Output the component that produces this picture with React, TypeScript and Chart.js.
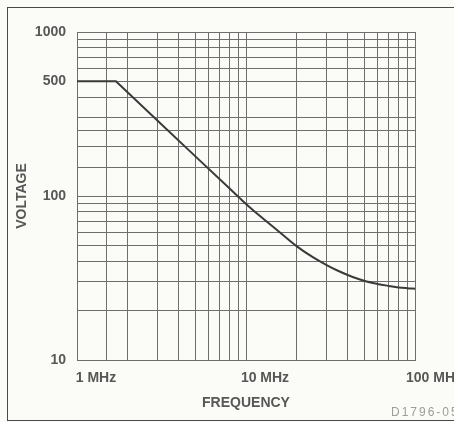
import { useEffect, useRef } from 'react';
import { Chart, registerables } from 'chart.js';

Chart.register(...registerables);

// Data
const frequenciesMHz = [1, 1.7, 3, 5, 8, 9.2, 10, 12, 15, 20, 25, 30, 35, 40, 50, 60, 70, 80, 90, 100];
const voltages = [500, 500, 288, 175, 111, 96.8, 89.5, 76, 63, 49.3, 42.2, 37.9, 35, 33, 30.4, 29.1, 28.3, 27.7, 27.4, 27.2];
// points up to this index form the straight part of the curve; the rest is the smooth roll-off
const straightEndIndex = 5;

const xGridValues = [1, 1.5, 2, 3, 4, 5, 6, 7, 8, 9, 10, 20, 30, 40, 50, 60, 70, 80, 90, 100];
const yGridValues = [10, 20, 30, 40, 50, 60, 70, 80, 90, 100, 150, 200, 250, 300, 400, 500, 600, 700, 800, 900, 1000];
const xLabelValues = [1, 10, 100];
const xLabelTexts = ['1 MHz', '10 MHz', '100 MHz'];
const yLabelValues = [10, 100, 500, 1000];
const xTitle = 'FREQUENCY';
const yTitle = 'VOLTAGE';
const figureCode = 'D1796-05';

const TEXT = '#575757';
const GRID = '#6e6e6e';
const CURVE = '#3a3a3a';
const FONT = '"Liberation Sans", Arial, Helvetica, sans-serif';

export default function App() {
  const ref = useRef<HTMLCanvasElement | null>(null);

  useEffect(() => {
    if (!ref.current) return;
    const points = frequenciesMHz.map((f, i) => ({ x: f, y: voltages[i] }));
    const codePlugin = {
      id: 'figureCode',
      afterDraw(chart: any) {
        const ctx = chart.ctx;
        ctx.save();
        ctx.font = `12px ${FONT}`;
        try { (ctx as any).letterSpacing = '2px'; } catch (e) {}
        ctx.fillStyle = '#9c9c9c';
        ctx.textBaseline = 'middle';
        ctx.textAlign = 'left';
        ctx.fillText(figureCode, 391, 413);
        ctx.restore();
      },
    };
    const chart = new Chart(ref.current, {
      type: 'line',
      data: {
        datasets: [
          {
            data: points.slice(0, straightEndIndex + 1),
            borderColor: CURVE,
            borderWidth: 2,
            pointRadius: 0,
            tension: 0,
            fill: false,
          },
          {
            data: points.slice(straightEndIndex),
            borderColor: CURVE,
            borderWidth: 2,
            pointRadius: 0,
            cubicInterpolationMode: 'monotone',
            fill: false,
          },
        ],
      },
      options: {
        responsive: false,
        animation: false,
        layout: { padding: { left: 0, right: 65, top: 32, bottom: 0 } },
        plugins: {
          legend: { display: false },
          tooltip: { enabled: false },
        },
        scales: {
          x: {
            type: 'logarithmic',
            min: 1,
            max: 100,
            afterBuildTicks: (s: any) => {
              s.ticks = xGridValues.map((v) => ({ value: v }));
            },
            afterFit: (s: any) => {
              s.height = 62;
            },
            ticks: {
              autoSkip: false,
              maxRotation: 0,
              minRotation: 0,
              padding: 10,
              labelOffset: 19,
              color: TEXT,
              font: { family: FONT, size: 14, weight: 'bold' },
              callback: (v: any) => {
                const i = xLabelValues.indexOf(Number(v));
                return i >= 0 ? xLabelTexts[i] : '';
              },
            },
            grid: { color: GRID, lineWidth: 1, drawTicks: false },
            border: { color: GRID, width: 1 },
            title: {
              display: true,
              text: xTitle,
              color: TEXT,
              font: { family: FONT, size: 14, weight: 'bold' },
              padding: { top: 0, bottom: 10.6 },
            },
          },
          y: {
            type: 'logarithmic',
            min: 10,
            max: 1000,
            afterBuildTicks: (s: any) => {
              s.ticks = yGridValues.map((v) => ({ value: v }));
            },
            afterFit: (s: any) => {
              s.width = 77;
            },
            ticks: {
              autoSkip: false,
              padding: 11,
              color: TEXT,
              font: { family: FONT, size: 14, weight: 'bold' },
              callback: (v: any) => (yLabelValues.includes(Number(v)) ? String(v) : ''),
            },
            grid: { color: GRID, lineWidth: 1, drawTicks: false },
            border: { color: GRID, width: 1 },
            title: {
              display: true,
              text: yTitle,
              color: TEXT,
              font: { family: FONT, size: 14, weight: 'bold' },
              padding: { top: 13.6, bottom: 0 },
            },
          },
        },
      } as any,
      plugins: [codePlugin],
    });
    return () => chart.destroy();
  }, []);

  return (
    <div
      style={{
        position: 'fixed',
        left: 0,
        top: 0,
        width: 454,
        height: 422,
        overflow: 'hidden',
        background: '#fbfbf7',
      }}
    >
      <div
        style={{
          position: 'absolute',
          left: 7,
          top: 7,
          width: 520,
          height: 414,
          border: '1.5px solid #4a4a4a',
          boxSizing: 'border-box',
        }}
      />
      <canvas
        ref={ref}
        width={480}
        height={422}
        style={{ position: 'absolute', left: 0, top: 0, display: 'block' }}
      />
    </div>
  );
}
